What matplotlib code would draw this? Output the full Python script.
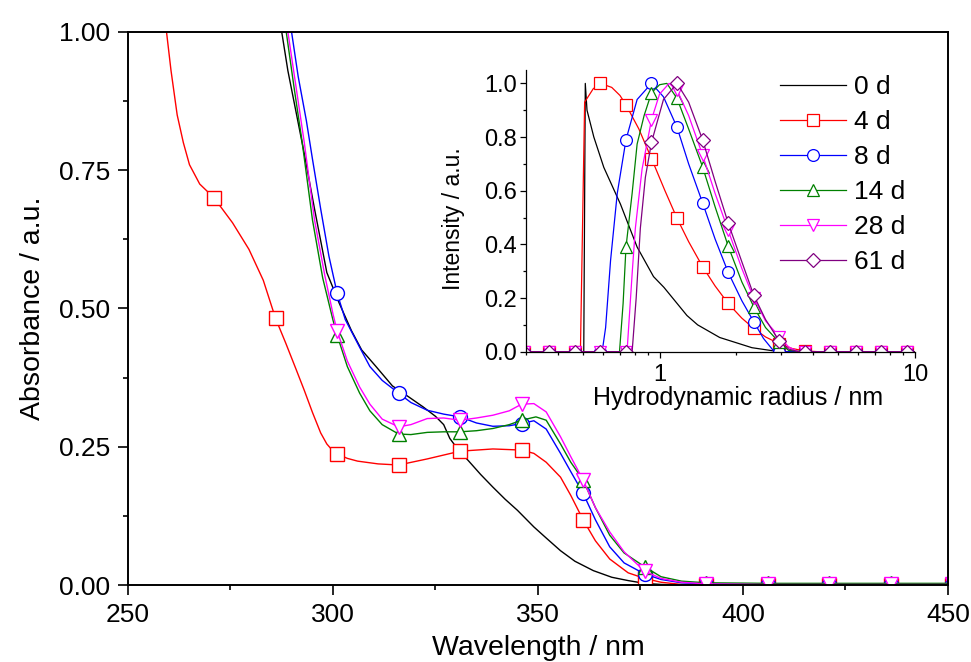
import numpy as np
import matplotlib
matplotlib.use('Agg')
import matplotlib.pyplot as plt
from matplotlib.ticker import MultipleLocator, FixedLocator, FixedFormatter, NullFormatter, LogLocator

plt.rcParams['font.family'] = ['Liberation Sans', 'DejaVu Sans']

# ---- main plot: absorbance spectra ----
wl_marks = [271, 286, 301, 316, 331, 346, 361, 376, 391, 406, 421, 436, 451]

wl_black = [287.5, 289, 291, 293, 295.5, 298.5, 301.5, 304.5, 307, 310.5, 314.5, 318.5, 322, 325, 327,
            328.5, 330.5, 333, 336, 339, 342, 345, 349, 352, 355.5, 359, 363.5, 368, 372, 376, 380, 385, 395, 450]
abs_black = [1.00, 0.93, 0.855, 0.78, 0.68, 0.565, 0.51, 0.46, 0.425, 0.395, 0.36, 0.34, 0.322, 0.305, 0.29,
             0.265, 0.245, 0.225, 0.2, 0.177, 0.155, 0.135, 0.105, 0.085, 0.062, 0.043, 0.026, 0.014, 0.008,
             0.003, 0.001, 0, 0, 0]

wl_red = [259.4, 260.5, 262, 263.5, 265, 267.5, 271, 275.5, 279.5, 283, 286, 288.5, 291, 293, 295, 297,
          298.5, 299.8, 301, 303.5, 306, 311, 316, 323, 331, 339, 346, 349, 352, 355.5, 358, 361, 364, 367.5,
          372, 376, 380, 385, 391, 406, 421, 436, 451]
abs_red = [1.00, 0.93, 0.85, 0.80, 0.76, 0.725, 0.70, 0.655, 0.607, 0.551, 0.482, 0.437, 0.39, 0.352, 0.312,
           0.275, 0.255, 0.244, 0.237, 0.229, 0.224, 0.219, 0.217, 0.228, 0.242, 0.246, 0.244, 0.238, 0.222,
           0.195, 0.162, 0.118, 0.08, 0.047, 0.022, 0.012, 0.005, 0.001, 0, 0, 0, 0, 0]

wl_blue = [289.9, 291.5, 293.5, 295, 297, 299, 301, 303, 306.5, 309, 312, 316, 319, 323, 327, 331, 335, 339,
           343, 346, 349, 352, 355.5, 358, 361, 364, 367.5, 371, 376, 380, 385, 391, 406, 421, 436, 451]
abs_blue = [1.0, 0.92, 0.84, 0.77, 0.68, 0.595, 0.528, 0.48, 0.43, 0.395, 0.37, 0.347, 0.33, 0.316, 0.309,
            0.304, 0.293, 0.287, 0.288, 0.292, 0.297, 0.282, 0.238, 0.205, 0.166, 0.118, 0.069, 0.04, 0.02,
            0.01, 0.004, 0.002, 0.001, 0.001, 0.001, 0.001]

wl_green = [288.6, 290.5, 292.5, 295, 297.5, 300, 301, 303.5, 306.5, 309, 312, 316, 319, 323, 327, 331, 335,
            339, 343, 346, 349.5, 352, 355.5, 358, 361, 364, 367.5, 371, 376, 380, 385, 391, 406, 421, 436, 451]
abs_green = [1.0, 0.9, 0.8, 0.66, 0.555, 0.479, 0.452, 0.395, 0.347, 0.315, 0.29, 0.273, 0.272, 0.276, 0.277,
             0.277, 0.279, 0.283, 0.29, 0.298, 0.304, 0.298, 0.255, 0.222, 0.19, 0.14, 0.09, 0.058, 0.033,
             0.015, 0.007, 0.004, 0.003, 0.003, 0.003, 0.003]

wl_mag = [289, 291, 293, 295.5, 298, 300, 301, 303.5, 306.5, 309, 312, 316, 319, 323, 327, 331, 335, 339,
          343, 346, 349, 352, 355.5, 358, 361, 364, 367.5, 371, 376, 380, 385, 391, 406, 421, 436, 451]
abs_mag = [1.0, 0.9, 0.8, 0.66, 0.56, 0.49, 0.46, 0.405, 0.358, 0.327, 0.3, 0.286, 0.29, 0.301, 0.302, 0.298,
           0.302, 0.307, 0.315, 0.327, 0.328, 0.313, 0.268, 0.232, 0.19, 0.14, 0.096, 0.06, 0.025, 0.012,
           0.005, 0.002, 0.001, 0.001, 0.001, 0.001]

# ---- inset: DLS size distributions ----
r_marks = [0.294, 0.37, 0.466, 0.587, 0.739, 0.93, 1.171, 1.474, 1.856, 2.337, 2.942, 3.704, 4.663, 5.87, 7.39, 9.303]

r_black = [0.294, 0.37, 0.466, 0.505, 0.512, 0.52, 0.553, 0.605, 0.703, 0.817, 0.947, 1.04, 1.28, 1.41,
           1.72, 1.9, 2.3, 2.8, 3.0, 10]
I_black = [0, 0, 0, 0, 1.0, 0.9, 0.8, 0.687, 0.55, 0.39, 0.28, 0.24, 0.135, 0.1, 0.053, 0.04, 0.015, 0.003, 0, 0]

r_red = [0.294, 0.37, 0.466, 0.49, 0.509, 0.55, 0.587, 0.65, 0.70, 0.739, 0.83, 0.93, 1.05, 1.171, 1.3, 1.474,
         1.65, 1.856, 2.1, 2.337, 2.6, 2.942, 3.3, 3.704, 4.2, 4.663, 5.87, 7.39, 9.303]
I_red = [0, 0, 0, 0, 0.93, 0.98, 1.0, 0.985, 0.955, 0.92, 0.83, 0.72, 0.60, 0.497, 0.41, 0.317, 0.245, 0.18,
         0.125, 0.087, 0.055, 0.03, 0.012, 0.003, 0, 0, 0, 0, 0]

r_blue = [0.294, 0.37, 0.466, 0.587, 0.596, 0.615, 0.643, 0.683, 0.739, 0.817, 0.93, 1.036, 1.171, 1.3, 1.474,
          1.65, 1.856, 2.1, 2.337, 2.55, 2.78, 2.942, 3.704, 4.663, 5.87, 7.39, 9.303]
I_blue = [0, 0, 0, 0, 0, 0.09, 0.34, 0.59, 0.79, 0.94, 1.0, 0.95, 0.836, 0.7, 0.555, 0.42, 0.296, 0.19, 0.112,
          0.05, 0.006, 0, 0, 0, 0, 0, 0]

r_green = [0.294, 0.37, 0.466, 0.587, 0.697, 0.72, 0.739, 0.781, 0.817, 0.87, 0.93, 1.0, 1.068, 1.171, 1.3,
           1.474, 1.65, 1.856, 2.1, 2.337, 2.6, 2.942, 3.2, 3.704, 4.663, 5.87, 7.39, 9.303]
I_green = [0, 0, 0, 0, 0, 0.18, 0.39, 0.59, 0.774, 0.88, 0.965, 0.995, 1.0, 0.944, 0.83, 0.689, 0.54, 0.394,
           0.26, 0.168, 0.09, 0.035, 0.005, 0, 0, 0, 0, 0]

r_mag = [0.294, 0.37, 0.466, 0.587, 0.739, 0.746, 0.781, 0.804, 0.854, 0.93, 1.0, 1.09, 1.171, 1.3, 1.474,
         1.65, 1.856, 2.1, 2.337, 2.6, 2.942, 3.2, 3.5, 3.704, 4.663, 5.87, 7.39, 9.303]
I_mag = [0, 0, 0, 0, 0, 0, 0.29, 0.46, 0.68, 0.865, 0.96, 1.0, 0.975, 0.88, 0.733, 0.59, 0.453, 0.31, 0.2,
         0.115, 0.056, 0.018, 0, 0, 0, 0, 0, 0]

r_pur = [0.294, 0.37, 0.466, 0.587, 0.739, 0.781, 0.81, 0.841, 0.88, 0.93, 1.036, 1.171, 1.3, 1.474, 1.65,
         1.856, 2.1, 2.337, 2.6, 2.942, 3.2, 3.5, 3.704, 4.663, 5.87, 7.39, 9.303]
I_pur = [0, 0, 0, 0, 0, 0, 0.2, 0.46, 0.65, 0.78, 0.94, 1.0, 0.93, 0.79, 0.635, 0.48, 0.335, 0.211, 0.12,
         0.04, 0.01, 0, 0, 0, 0, 0, 0]

labels = ['0 d', '4 d', '8 d', '14 d', '28 d', '61 d']
colors = ['black', '#FF0000', '#0000FF', '#008000', '#FF00FF', '#800080']
markers = [None, 's', 'o', '^', 'v', 'D']


def mark_idx(xs, marks):
    return [i for i, v in enumerate(xs) if v in marks]


fig = plt.figure(figsize=(9.71, 6.62), dpi=100)
ax = fig.add_axes([0.1318, 0.1163, 0.8445, 0.8354])

main_series = [(wl_black, abs_black), (wl_red, abs_red), (wl_blue, abs_blue),
               (wl_green, abs_green), (wl_mag, abs_mag)]
for (x, y), c, m in zip(main_series, colors, markers):
    if m is None:
        ax.plot(x, y, color=c, lw=1.0)
    else:
        ax.plot(x, y, color=c, lw=1.0, marker=m, markevery=mark_idx(x, wl_marks),
                ms=10 if m != 'D' else 8, mfc='white', mec=c, mew=1.0)

ax.set_xlim(250, 450)
ax.set_ylim(0, 1.0)
ax.xaxis.set_major_locator(MultipleLocator(50))
ax.xaxis.set_minor_locator(MultipleLocator(25))
ax.yaxis.set_major_locator(MultipleLocator(0.25))
ax.yaxis.set_minor_locator(MultipleLocator(0.125))
ax.yaxis.set_major_formatter(plt.FuncFormatter(lambda v, p: '%.2f' % v))
ax.tick_params(which='major', direction='out', length=7, width=1.2, labelsize=19, pad=6)
ax.tick_params(which='minor', direction='out', length=3.6, width=1.2)
for s in ax.spines.values():
    s.set_linewidth(1.4)
ax.set_xlabel('Wavelength / nm', fontsize=20.5, labelpad=6)
ax.set_ylabel('Absorbance / a.u.', fontsize=20.5, labelpad=9)

# inset
axi = fig.add_axes([0.5417, 0.4687, 0.4006, 0.4256])
axi.set_facecolor('none')
inset_series = [(r_black, I_black), (r_red, I_red), (r_blue, I_blue),
                (r_green, I_green), (r_mag, I_mag), (r_pur, I_pur)]
for (x, y), c, m, lab in zip(inset_series, colors, markers, labels):
    if m is None:
        axi.plot(x, y, color=c, lw=0.9, label=lab)
    else:
        axi.plot(x, y, color=c, lw=0.9, marker=m, markevery=mark_idx(x, r_marks),
                 ms=8.5 if m != 'D' else 7.5, mfc='white', mec=c, mew=0.9, label=lab)

axi.set_xscale('log')
axi.set_xlim(0.3, 10)
axi.set_ylim(0, 1.05)
axi.xaxis.set_major_locator(FixedLocator([1, 10]))
axi.xaxis.set_major_formatter(FixedFormatter(['1', '10']))
axi.xaxis.set_minor_locator(LogLocator(base=10, subs=np.arange(2, 10)))
axi.xaxis.set_minor_formatter(NullFormatter())
axi.yaxis.set_major_locator(MultipleLocator(0.2))
axi.yaxis.set_minor_locator(MultipleLocator(0.1))
axi.yaxis.set_major_formatter(plt.FuncFormatter(lambda v, p: '%.1f' % v))
axi.spines['top'].set_visible(False)
axi.spines['right'].set_visible(False)
for s in ['left', 'bottom']:
    axi.spines[s].set_linewidth(0.9)
axi.tick_params(which='major', direction='out', length=4.5, width=0.9, labelsize=17, pad=2)
axi.tick_params(axis='x', which='major', pad=4.5)
axi.tick_params(which='minor', direction='out', length=2.5, width=0.9)
axi.set_xlabel('Hydrodynamic radius / nm', fontsize=18)
axi.xaxis.set_label_coords(0.545, -0.122)
axi.set_ylabel('Intensity / a.u.', fontsize=16.5)
axi.yaxis.set_label_coords(-0.158, 0.471)

axi.legend(loc='upper left', bbox_to_anchor=(0.8033, 0.8867), bbox_transform=fig.transFigure,
           frameon=False, fontsize=19, handlelength=2.5, handletextpad=0.3, labelspacing=0.42,
           borderpad=0, borderaxespad=0)

fig.savefig('out.png', dpi=100)
